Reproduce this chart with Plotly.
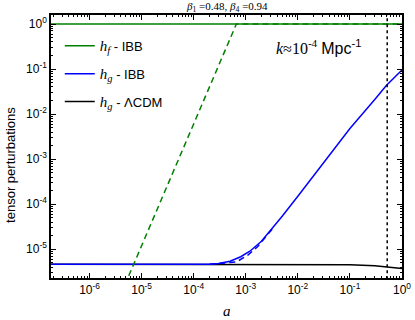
import plotly.graph_objects as go

# ── Data ──────────────────────────────────────────────────────────────────────
# scale factor a and tensor amplitudes
a_hf = [1.8e-7, 1.0]
hf_ibb = [1.0, 1.0]

a_hf_dash = [4e-6, 1e-5, 1e-4, 6.6e-4, 1.0]
hf_ibb_dash = [1.0e-6, 1.2e-5, 6.2e-3, 1.0, 1.0]

a_hg = [1.8e-7, 1e-5, 1e-4, 2e-4, 3e-4, 5e-4, 8e-4, 1.2e-3, 2e-3, 3e-3, 5e-3,
        1e-2, 3e-2, 0.1, 0.3, 0.5, 1.0]
hg_ibb = [4.6e-6, 4.6e-6, 4.6e-6, 4.65e-6, 4.8e-6, 5.4e-6, 6.8e-6, 9e-6, 1.5e-5, 2.6e-5, 5.4e-5,
          1.5e-4, 8e-4, 4.8e-3, 0.021, 0.043, 0.095]

a_hg_dash = [2e-4, 6.6e-4, 1.1e-3, 1.7e-3, 2.7e-3, 3.5e-3]
hg_ibb_dash = [4.6e-6, 5.2e-6, 7.4e-6, 1.15e-5, 2.2e-5, 3.1e-5]

a_lcdm = [1.8e-7, 1e-2, 0.1, 0.3, 0.5, 1.0]
hg_lcdm = [4.6e-6, 4.6e-6, 4.5e-6, 4.3e-6, 4.1e-6, 3.7e-6]

a_today = 0.52

x_tickvals = [1e-6, 1e-5, 1e-4, 1e-3, 1e-2, 1e-1, 1]
x_ticktext = ["10<sup>-6</sup>", "10<sup>-5</sup>", "10<sup>-4</sup>", "10<sup>-3</sup>",
              "10<sup>-2</sup>", "10<sup>-1</sup>", "10<sup>0</sup>"]
y_tickvals = [1e-5, 1e-4, 1e-3, 1e-2, 1e-1, 1]
y_ticktext = ["10<sup>-5</sup>", "10<sup>-4</sup>", "10<sup>-3</sup>",
              "10<sup>-2</sup>", "10<sup>-1</sup>", "10<sup>0</sup>"]

SANS = "Liberation Sans"
SERIF = "Liberation Serif"
GREEN = "#008000"
BLUE = "#0000ff"


def label(sub, tail):
    return (f'<span style="font-family:{SERIF};font-size:15px"><i>h<sub>{sub}</sub></i></span>'
            f' - {tail}')


fig = go.Figure()

# ΛCDM first so the IBB curves sit on top of it
fig.add_trace(go.Scatter(x=a_lcdm, y=hg_lcdm, mode="lines", name=label("g", "ΛCDM"),
                         line=dict(color="black", width=1.5), legendrank=3, legendgroup="c"))
fig.add_trace(go.Scatter(x=a_hg_dash, y=hg_ibb_dash, mode="lines", showlegend=False,
                         line=dict(color=BLUE, width=1.5, dash="6px,4px")))
fig.add_trace(go.Scatter(x=a_hg, y=hg_ibb, mode="lines", name=label("g", "IBB"),
                         line=dict(color=BLUE, width=1.5), legendrank=2, legendgroup="b"))
fig.add_trace(go.Scatter(x=a_hf, y=hf_ibb, mode="lines", name=label("f", "IBB"),
                         line=dict(color=GREEN, width=1.5), legendrank=1, legendgroup="a"))
fig.add_trace(go.Scatter(x=a_hf_dash, y=hf_ibb_dash, mode="lines", showlegend=False,
                         line=dict(color=GREEN, width=1.5, dash="6px,4px")))

# a = today marker
fig.add_trace(go.Scatter(x=[a_today, a_today], y=[1e-7, 10], mode="lines", showlegend=False,
                         line=dict(color="black", width=1.5, dash="dot")))

axis_common = dict(
    type="log",
    tickmode="array",
    ticks="inside",
    ticklen=5,
    tickwidth=1,
    tickcolor="black",
    mirror="allticks",
    showline=True,
    linecolor="black",
    linewidth=1.5,
    showgrid=False,
    zeroline=False,
    automargin=False,
    tickfont=dict(family=SANS, size=12, color="black"),
    minor=dict(ticks="inside", ticklen=2.5, tickwidth=0.8, tickcolor="black",
               dtick="D1", showgrid=False),
)

fig.update_xaxes(range=[-6.74, 0.0], tickvals=x_tickvals, ticktext=x_ticktext, **axis_common)
fig.update_yaxes(range=[-5.64, 0.2], tickvals=y_tickvals, ticktext=y_ticktext, **axis_common)

fig.update_layout(
    width=415,
    height=320,
    margin=dict(l=51, r=13, t=15, b=42),
    paper_bgcolor="white",
    plot_bgcolor="white",
    legend=dict(x=0.025, y=0.94, xanchor="left", yanchor="top", bgcolor="rgba(0,0,0,0)",
                font=dict(family=SANS, size=13, color="black"), tracegroupgap=8),
    annotations=[
        dict(text=f"<i>β</i><sub>1</sub> =0.48, <i>β</i><sub>4</sub> =0.94",
             x=0.5, y=1.03, xref="paper", yref="paper", xanchor="center", yanchor="middle",
             showarrow=False, font=dict(family=SERIF, size=11, color="black")),
        dict(text="<i>a</i>", x=0.5, y=-0.125, xref="paper", yref="paper",
             xanchor="center", yanchor="middle", showarrow=False,
             font=dict(family=SERIF, size=15, color="black")),
        dict(text="tensor perturbations", x=-0.114, y=0.43, xref="paper", yref="paper",
             xanchor="center", yanchor="middle", textangle=-90, showarrow=False,
             font=dict(family=SANS, size=13, color="black")),
        dict(text=f'<i>k</i>≈10<sup>-4</sup> <span style="font-family:{SANS}">Mpc<sup>-1</sup></span>',
             x=0.763, y=0.878, xref="paper", yref="paper", xanchor="center", yanchor="middle",
             showarrow=False, font=dict(family=SERIF, size=16, color="black")),
    ],
)

# page body has an 8px default margin; drop it so the figure sits at the window corner
fig.write_html("out.html", config={"displayModeBar": False},
               post_script="document.body.style.margin='0';")
